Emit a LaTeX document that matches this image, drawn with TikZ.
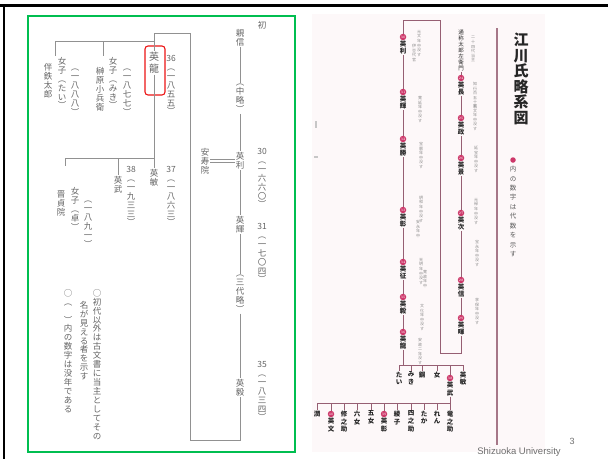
\documentclass[tikz,border=0pt]{standalone}
\usepackage{fontspec}
\newfontfamily\jp{Noto Sans CJK JP}
\newfontfamily\footsans{Liberation Sans}
\usetikzlibrary{positioning, calc}

\definecolor{scan}{RGB}{100,100,100}
\definecolor{scanline}{RGB}{145,145,145}
\definecolor{boxred}{RGB}{235,20,20}
\definecolor{frgreen}{RGB}{0,190,80}
\definecolor{beni}{RGB}{205,55,105}
\definecolor{benline}{RGB}{150,95,115}
\definecolor{pinkbg}{RGB}{253,248,249}
\definecolor{footgray}{RGB}{110,110,110}

%% vertical (tategaki) stack of characters
\ExplSyntaxOn
\NewDocumentCommand\tate{O{1.05}m}
  {
    \tl_set:Nx \l_tmpa_tl {#2}
    \vbox
      {
        \baselineskip=#1em
        \lineskiplimit=-\maxdimen
        \lineskip=0pt
        \tl_map_inline:Nn \l_tmpa_tl { \hbox to 1em {\hss ##1 \hss} }
      }
  }
\ExplSyntaxOff

\begin{document}
\begin{tikzpicture}[x=1pt, y=-1pt,
    lt/.style={text=scan, font=\jp\fontsize{8.5}{8.5}\selectfont, inner sep=1pt, anchor=north},
    ln/.style={draw=scanline, line width=0.8pt},
    rt/.style={text=black!85, font=\jp\bfseries\fontsize{6.5}{6.5}\selectfont, inner sep=0.6pt, anchor=north},
    note/.style={text=black!45, font=\jp\fontsize{4}{4}\selectfont, inner sep=0pt, anchor=north},
    dai/.style={circle, fill=beni, text=white, font=\fontsize{3.5}{3.5}\selectfont, inner sep=0pt, minimum size=6.5pt},
    rl/.style={draw=benline, line width=0.7pt}
]
\useasboundingbox (0,0) rectangle (608,459);

%% slide frame
\draw[line width=2.6pt] (0,5.5) -- (608,5.5);
\draw[line width=2.6pt] (4,4.2) -- (4,459);
\draw[frgreen, line width=1.3pt] (28,16) rectangle (295,452);

%% LEFT: main line of the family
\node[lt] (sho) at (262,20) {\tate{初}};
\node[lt] (oya) at (240,28) {\tate{親信}};
\node[lt] (chu) at (240,83) {\tate{︵中略︶}};
\node[lt] (toshi) at (240,151) {\tate{英利}};
\node[lt] (teru) at (240,215) {\tate{英輝}};
\node[lt] (san) at (240,274) {\tate{︵三代略︶}};
\node[lt] (take) at (240,378) {\tate{英毅}};
\node[lt] (n30) at (262,147) {\tate{{30}︵一六六〇︶}};
\node[lt] (n31) at (262,222) {\tate{{31}︵一七〇四︶}};
\node[lt] (n35) at (262,360) {\tate{{35}︵一八三四︶}};
\node[lt] (anju) at (205,147) {\tate{安寿院}};
\draw[ln] (oya) -- (chu);
\draw[ln] (chu) -- (toshi);
\draw[ln] (toshi) -- (teru);
\draw[ln] (teru) -- (san);
\draw[ln] (san) -- (take);
\draw[ln, double=white, double distance=2.6pt] (anju.east) -- (anju.east -| toshi.west);

% line returning up to the 36th head
\node[lt, font=\jp\fontsize{10}{10}\selectfont] (ryu) at (154,51) {\tate[1.2]{英龍}};
\node[draw=boxred, line width=1.1pt, rounded corners=3pt,
      minimum width=20pt, minimum height=49pt] (ryubox) at (155,70.5) {};
\coordinate (lb) at (240,440);
\coordinate (lc) at (190,33);
\draw[ln] (take) -- (lb) -| (lc) -| (ryu.north);
\node[lt] (n36) at (171,54) {\tate{{36}︵一八五五︶}};

% daughters of the 36th head
\coordinate (t1) at (154,41);
\coordinate (t0) at (55,41);
\coordinate (t2) at (103,41);
\node[lt] (ban) at (48,62) {\tate{伴鉄太郎}};
\node[lt] (tai) at (62,56) {\tate{女子︵たい︶}};
\node[lt] (taiy) at (75,68) {\tate{︵一八八八︶}};
\node[lt] (saka) at (100,66) {\tate{榊原小兵衛}};
\node[lt] (miki) at (113,56) {\tate{女子︵みき︶}};
\node[lt] (mikiy) at (127,68) {\tate{︵一八七七︶}};
\draw[ln] (t1) -- (t0) -- (t0 |- tai.north);
\draw[ln] (t2) -- (t2 |- miki.north);

% sons of the 36th head
\coordinate (rj) at (154,158);
\coordinate (s0) at (65,158);
\coordinate (s1) at (118,158);
\node[lt] (bin) at (154,168) {\tate{英敏}};
\node[lt] (n37) at (171,165) {\tate{{37}︵一八六三︶}};
\node[lt] (bu) at (118,175) {\tate{英武}};
\node[lt] (n38) at (131,165) {\tate{{38}︵一九三三︶}};
\node[lt] (shin) at (61,190) {\tate{晋貞院}};
\node[lt] (taku) at (75,186) {\tate{女子︵卓︶}};
\node[lt] (taky) at (88,200) {\tate{︵一八九一︶}};
\draw[ln] (ryu) -- (bin);
\draw[ln] (rj) -- (s0) -- ++(0,8);
\draw[ln] (s1) -- (bu.north);

% notes
\node[lt] (memo1) at (97,288) {\tate{○初代以外は古文書に当主としてその}};
\node[lt] (memo2) at (84,300) {\tate{名が見える者を示す}};
\node[lt] (memo3) at (68,288) {\tate{○︵　︶内の数字は没年である}};

%% RIGHT: printed family tree
\fill[pinkbg] (312,14) rectangle (545,452);
\draw[benline!85, line width=1.4pt] (497,28) -- (497,445);
\node[font=\jp\bfseries\fontsize{15}{15}\selectfont, text=black!85, anchor=north, inner sep=0pt]
  (title) at (521,33) {\tate[1.03]{江川氏略系図}};
\node[dai, minimum size=5.5pt] (dot) at (513,160) {};
\node[note, font=\jp\fontsize{6.5}{6.5}\selectfont, text=black!65] (sub) at (513,166)
  {\tate[1.45]{内の数字は代数を示す}};

% first column
\node[rt, font=\jp\fontsize{5.5}{5.5}\selectfont] (tsu) at (461,29) {\tate[1.1]{通称太郎左衛門}};
\foreach \y/\nm/\n [count=\i] in {78/英長/24,118/英政/25,158/英景/26,213/英次/27,280/英信/28,318/英暉/29}{
  \node[dai] (a\i) at (461,\y) {\n};
  \node[rt] (an\i) at (a\i.south) {\tate[1.1]{\nm}};
}
\draw[rl] (tsu) -- (a1);
\foreach \i/\j in {1/2,2/3,3/4,4/5,5/6}{ \draw[rl] (an\i) -- (a\j); }

% second column
\foreach \y/\nm/\n [count=\i] in {37/英利/30,92/英輝/31,139/英勝/32,210/英彰/33,262/英征/34,297/英毅/35,332/英龍/36}{
  \node[dai] (b\i) at (403,\y) {\n};
  \node[rt] (bn\i) at (b\i.south) {\tate[1.1]{\nm}};
}
\foreach \i/\j in {1/2,2/3,3/4,4/5,5/6,6/7}{ \draw[rl] (bn\i) -- (b\j); }
\coordinate (ra) at (440,353);
\coordinate (rb) at (403,20);
\draw[rl] (an6) |- (ra) |- (rb) -- (b1);

% side notes
\foreach \x/\y/\tx in {473/36/二十四代当主, 475/82/知行百五十石, 475/104/寛文年中没す,
    476/146/延宝年中没す, 476/198/元禄年中没す, 477/240/宝永年中没す, 477/298/享保年中没す,
    419/30/元文年中没す, 414/44/伊豆代官, 420/96/寛延年中没す, 421/142/宝暦年中没す,
    421/196/明和年中没す, 418/220/安永年中, 421/258/天明年中没す, 425/270/寛政年中,
    422/304/文化年中没す, 420/338/安政二年没す}{
  \node[note] (nt\x\y) at (\x,\y) {\tate[1.15]{\tx}};
}

% children of the 36th head
\coordinate (c1) at (399,365);
\coordinate (c2) at (463,365);
\draw[rl] (c1) -- (c2);
\draw[rl] (bn7) -- (bn7.south |- c1);
\foreach \x/\nm in {399/たい,411/みき,422/鋼,437/女,463/英敏}{
  \node[rt] (k\x) at (\x,371) {\tate[1.15]{\nm}};
  \draw[rl] (k\x.north) -- (k\x.north |- c1);
}
\node[dai] (a38) at (450,378) {38};
\node[rt] (bun) at (a38.south) {\tate[1.15]{英武}};
\draw[rl] (a38) -- (a38 |- c1);

% children of the 38th head
\coordinate (d1) at (317,403);
\coordinate (d2) at (450,403);
\draw[rl] (bun) -- (d2);
\draw[rl] (d1) -- (d2);
\foreach \x/\nm in {317/潤,344/修之助,357/六女,371/五女,397/綾子,411/四之助,424/たか,437/れん,450/竜之助}{
  \node[rt] (m\x) at (\x,410) {\tate[1.2]{\nm}};
  \draw[rl] (m\x.north) -- (m\x.north |- d1);
}
\foreach \x/\nm/\n in {331/英文/40,384/英彰/39}{
  \node[dai] (g\x) at (\x,414) {\n};
  \node[rt] (m\x) at (g\x.south) {\tate[1.2]{\nm}};
  \draw[rl] (g\x) -- (g\x |- d1);
}

% scanner marks
\fill[black!22] (315,121) rectangle (317,128);
\fill[black!22] (314,156) rectangle (318,158);

%% footer
\node[font=\footsans\fontsize{9.5}{9.5}\selectfont, text=footgray] (univ) at (519,452) {Shizuoka University};
\node[font=\footsans\fontsize{9}{9}\selectfont, text=footgray] (page) at (572,441) {3};
\end{tikzpicture}
\end{document}
